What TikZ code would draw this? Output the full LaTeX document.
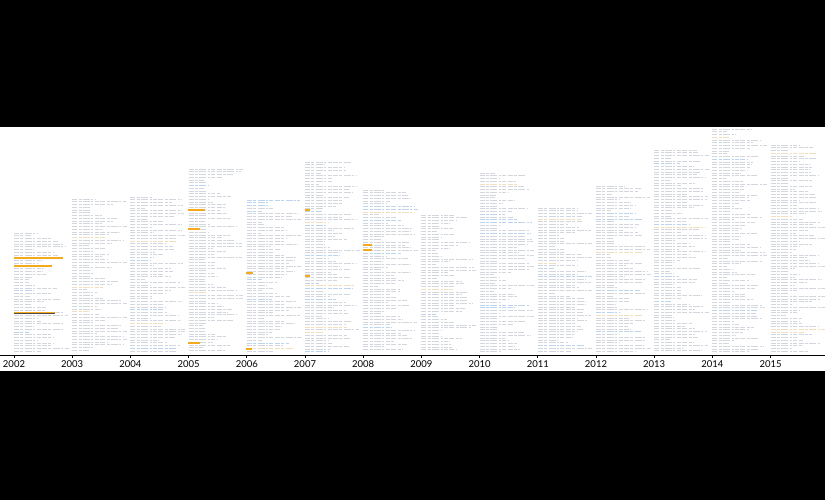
\documentclass[tikz,border=0pt]{standalone}
\usepackage{fontspec}
\setmainfont{Lato}
\begin{document}
\begin{tikzpicture}[x=1pt,y=-1pt,
  textline/.style={line width=0.55pt,dash pattern=on 5pt off 1.4pt on 3pt off 1.4pt on 7pt off 1.4pt on 2pt off 1.4pt on 4pt off 1.4pt},
  hl/.style={line width=2pt,draw={rgb,255:red,245;green,170;blue,30}},
  yearlabel/.style={font=\fontsize{9.5}{10}\selectfont,inner sep=0pt,anchor=center}]
\pgfmathsetseed{42}
\definecolor{tgray}{RGB}{212,214,222}
\definecolor{tblue}{RGB}{190,212,236}
\definecolor{torange}{RGB}{240,222,190}
\fill[black] (0,0) rectangle (825,500);
\fill[white] (0,127) rectangle (825,371);
\useasboundingbox (0,0) rectangle (825,500);
% text columns
\foreach \i/\top in {0/233,1/199,2/197,3/169,4/200,5/162,6/190,7/215,8/173,9/208,10/186,11/150,12/129,13/145}{
  \pgfmathsetmacro\xx{14+58.2*\i}
  \pgfmathsetmacro\second{\top+2.75}
  \foreach \yy in {\top,\second,...,352}{
    \pgfmathsetmacro\len{14+42*rnd}
    \pgfmathsetmacro\cc{rnd}
    \ifdim\cc pt<0.07pt
      \draw[textline,tblue] (\xx,\yy) -- ++(\len,0);
    \else\ifdim\cc pt<0.10pt
      \draw[textline,torange] (\xx,\yy) -- ++(\len,0);
    \else
      \draw[textline,tgray] (\xx,\yy) -- ++(\len,0);
    \fi\fi
  }
}
% highlights
\draw[hl] (14,258) -- (63,258);
\draw[hl] (14,265.5) -- (52,265.5);
\draw[hl] (14,313) -- (55,313);
\draw[line width=0.8pt,black!70] (14,313.6) -- (55,313.6);
\draw[hl] (188,209.5) -- (205,209.5);
\draw[hl] (188,229) -- (200,229);
\draw[hl] (188,343) -- (200,343);
\draw[hl] (246,273) -- (253,273);
\draw[hl] (246,349) -- (252,349);
\draw[hl] (305,210) -- (310,210);
\draw[hl] (305,276) -- (310,276);
\draw[hl] (363,245) -- (372,245);
\draw[hl] (363,249.5) -- (372,249.5);
% axis
\coordinate (axl) at (0,355);
\coordinate (axr) at (825,355);
\draw[line width=0.9pt] (axl) -- (axr);
\foreach \i/\yr in {0/2002,1/2003,2/2004,3/2005,4/2006,5/2007,6/2008,7/2009,8/2010,9/2011,10/2012,11/2013,12/2014,13/2015}{
  \pgfmathsetmacro\xx{14+58.2*\i}
  \coordinate (t\i) at (\xx,355);
  \draw[line width=0.7pt] (t\i) -- ++(0,3);
  \node[yearlabel] (y\i) at (\xx,364.5) {\yr};
}
\end{tikzpicture}
\end{document}
